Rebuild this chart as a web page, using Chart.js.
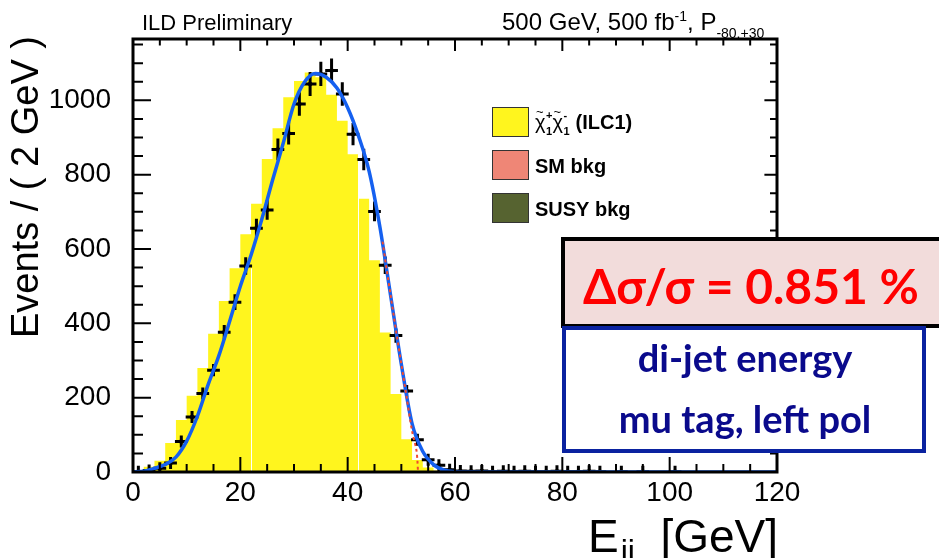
<!DOCTYPE html>
<html>
<head>
<meta charset="utf-8">
<script src="https://cdn.jsdelivr.net/npm/chart.js@4.4.1/dist/chart.umd.min.js"></script>
<style>
  html, body { margin: 0; padding: 0; background: #fff; }
  #wrap { width: 939px; height: 558px; position: relative; }
</style>
</head>
<body>
<div id="wrap"><canvas id="chart"></canvas></div>
<script>
// --------------------
// Data (2 GeV bins, 0-120 GeV)
// --------------------
const binWidth = 2;
const binCenters = [
  1, 3, 5, 7, 9, 11, 13, 15, 17, 19, 21, 23, 25, 27, 29, 31, 33, 35, 37, 39,
  41, 43, 45, 47, 49, 51, 53, 55, 57, 59, 61, 63, 65, 67, 69, 71, 73, 75, 77, 79,
  81, 83, 85, 87, 89, 91, 93, 95, 97, 99, 101, 103, 105, 107, 109, 111, 113, 115, 117, 119
];
// pseudo-data points
const dataCounts = [
  1, 4, 10, 24, 82, 148, 211, 274, 376, 457, 554, 656, 705, 868, 911, 990, 1044, 1071, 1080, 1017,
  909, 841, 701, 556, 367, 218, 87, 33, 18, 6, 3, 2, 3, 1, 2, 1, 2, 1, 1, 2,
  1, 1, 2, 1, 0, 1, 0, 1, 0, 0, 1, 0, 0, 0, 0, 0, 0, 0, 0, 0
];
// signal histogram (yellow)
const signalHist = [
  1, 5, 14, 30, 78, 140, 205, 280, 372, 460, 548, 640, 722, 842, 925, 1008, 1052, 1075, 1062, 1015,
  945, 855, 735, 570, 375, 210, 88, 32, 12, 4, 0, 0, 0, 0, 0, 0, 0, 0, 0, 0,
  0, 0, 0, 0, 0, 0, 0, 0, 0, 0, 0, 0, 0, 0, 0, 0, 0, 0, 0, 0
];
// fit curve (blue)
const fitX = [0, 2, 4, 6, 8, 10, 12, 14, 16, 18, 20, 22, 24, 26, 28, 30, 32, 34, 36, 38,
  40, 42, 44, 46, 48, 50, 52, 54, 56, 58, 60, 62, 80, 100, 120];
const fitY = [0, 2, 10, 20, 40, 83, 150, 235, 313, 405, 500, 584, 680, 785, 885, 990, 1050, 1072, 1062, 1033,
  980, 905, 809, 660, 475, 290, 130, 55, 20, 5, 1, 0, 0, 0, 0];
// signal component of the fit (red dashed)
const sigX = [46.5, 48, 50, 51, 52, 52.8, 53, 53.1];
const sigY = [620, 475, 290, 200, 110, 60, 30, 0];
// bin edges showing a thin white gap
const gapEdges = [22, 42];

const xTicks = [0, 20, 40, 60, 80, 100, 120];
const yTicks = [0, 200, 400, 600, 800, 1000];
const yMax = 1165;

const legendItems = [
  { label: "chi", color: "#fff51e" },
  { label: "SM bkg", color: "#ef8676" },
  { label: "SUSY bkg", color: "#566330" },
];

const FONT = "'Liberation Sans', Arial, sans-serif";

// --------------------
// Helpers
// --------------------
function histPoints(values) {
  const pts = values.map((v, i) => ({ x: binCenters[i] - binWidth / 2, y: v }));
  pts.push({ x: binCenters[binCenters.length - 1] + binWidth / 2, y: values[values.length - 1] });
  return pts;
}

// --------------------
// Plugins
// --------------------
const errorBars = {
  id: "errorBars",
  afterDatasetDraw(chart, args) {
    if (args.index !== 1) return;
    const { ctx, chartArea: a, scales: { x, y } } = chart;
    ctx.save();
    ctx.beginPath();
    ctx.rect(a.left, a.top, a.width, a.height);
    ctx.clip();
    ctx.strokeStyle = "#000";
    ctx.lineWidth = 3;
    ctx.beginPath();
    binCenters.forEach((c, i) => {
      const n = dataCounts[i];
      if (n <= 0) return;
      const err = Math.sqrt(n);
      const px = x.getPixelForValue(c);
      const py = y.getPixelForValue(n);
      ctx.moveTo(x.getPixelForValue(c - binWidth / 2) - 1, py);
      ctx.lineTo(x.getPixelForValue(c + binWidth / 2) + 1, py);
      ctx.moveTo(px, Math.min(y.getPixelForValue(n + err), py - 6));
      ctx.lineTo(px, Math.max(y.getPixelForValue(n - err), py + 6));
    });
    ctx.stroke();
    ctx.restore();
  },
};

const histGaps = {
  id: "histGaps",
  afterDatasetDraw(chart, args) {
    if (args.index !== 0) return;
    const { ctx, scales: { x, y } } = chart;
    ctx.save();
    ctx.strokeStyle = "#fff";
    ctx.lineWidth = 1;
    gapEdges.forEach((e) => {
      const i = binCenters.indexOf(e + binWidth / 2);
      const h = Math.min(signalHist[i], signalHist[i - 1]);
      const px = Math.round(x.getPixelForValue(e)) + 0.5;
      ctx.beginPath();
      ctx.moveTo(px, y.getPixelForValue(0));
      ctx.lineTo(px, y.getPixelForValue(h));
      ctx.stroke();
    });
    ctx.restore();
  },
};

const frame = {
  id: "frame",
  afterDraw(chart) {
    const { ctx, chartArea: a, scales: { x, y } } = chart;
    ctx.save();
    ctx.strokeStyle = "#000";
    ctx.lineWidth = 2;
    ctx.beginPath();
    for (let v = 0; v <= 120; v += 5) {
      const px = x.getPixelForValue(v);
      const len = v % 20 === 0 ? 15 : 8;
      ctx.moveTo(px, a.bottom); ctx.lineTo(px, a.bottom - len);
      ctx.moveTo(px, a.top); ctx.lineTo(px, a.top + len * 0.8);
    }
    for (let v = 0; v <= yMax; v += 50) {
      const py = y.getPixelForValue(v);
      const len = v % 200 === 0 ? 18 : 10;
      ctx.moveTo(a.left, py); ctx.lineTo(a.left + len, py);
      ctx.moveTo(a.right, py); ctx.lineTo(a.right - len * 0.7, py);
    }
    ctx.stroke();
    ctx.lineWidth = 3;
    ctx.strokeRect(a.left, a.top, a.width, a.height);

    // top texts
    ctx.fillStyle = "#000";
    ctx.textBaseline = "alphabetic";
    ctx.textAlign = "left";
    ctx.font = "22px " + FONT;
    ctx.fillText("ILD Preliminary", 142, 30);
    let tx = 502;
    const parts = [
      ["500 GeV, 500 fb", "24px", 30],
      ["-1", "14px", 21],
      [", P", "24px", 30],
      ["-80,+30", "14px", 38],
    ];
    parts.forEach(([t, f, b]) => {
      ctx.font = f + " " + FONT;
      ctx.fillText(t, tx, b);
      tx += ctx.measureText(t).width;
    });

    // y title
    ctx.save();
    ctx.translate(28, 36);
    ctx.rotate(-Math.PI / 2);
    ctx.textAlign = "right";
    ctx.textBaseline = "middle";
    ctx.font = "38px " + FONT;
    ctx.fillText("Events / ( 2 GeV )", 0, 0);
    ctx.restore();

    // x title
    const big = "46px " + FONT;
    ctx.font = big;
    ctx.fillText("E", 588, 552);
    const wE = ctx.measureText("E").width;
    ctx.font = "32px " + FONT;
    ctx.fillText("jj", 588 + wE + 2, 562);
    ctx.font = big;
    ctx.textAlign = "right";
    ctx.fillText("[GeV]", a.right + 1, 552);
    ctx.textAlign = "left";

    // legend
    const ly = [107, 150, 193];
    legendItems.forEach((it, i) => {
      ctx.fillStyle = it.color;
      ctx.fillRect(492, ly[i], 36, 29);
      ctx.strokeStyle = "#333";
      ctx.lineWidth = 1;
      ctx.strokeRect(492.5, ly[i] + 0.5, 36, 29);
      ctx.fillStyle = "#000";
      const base = ly[i] + 23;
      if (it.label === "chi") {
        let cx = 535;
        for (const sign of ["+", "-"]) {
          ctx.font = "20px " + FONT;
          ctx.fillText("\u03c7", cx, base - 1);
          const w = ctx.measureText("\u03c7").width;
          ctx.font = "13px " + FONT;
          ctx.fillText("~", cx + 1, base - 14);
          ctx.font = "bold 11px " + FONT;
          ctx.fillText(sign, cx + w + 0.5, base - 11);
          ctx.fillText("1", cx + w + 0.5, base + 5);
          cx += w + 7;
        }
        ctx.font = "bold 20px " + FONT;
        ctx.fillText(" (ILC1)", cx, base - 1);
      } else {
        ctx.font = "bold 20px " + FONT;
        ctx.fillText(it.label, 535, base);
      }
    });

    // result boxes
    ctx.fillStyle = "#f2dcdb";
    ctx.fillRect(563, 239, 390, 87);
    ctx.strokeStyle = "#000";
    ctx.lineWidth = 4;
    ctx.strokeRect(563, 239, 390, 87);
    ctx.fillStyle = "#fff";
    ctx.fillRect(564, 328, 360, 123);
    ctx.strokeStyle = "#0a22a0";
    ctx.strokeRect(564, 328, 360, 123);
    ctx.textAlign = "center";
    ctx.fillStyle = "#ff0000";
    ctx.font = "bold 48px Lato, 'Open Sans', sans-serif";
    ctx.fillText("\u0394\u03c3/\u03c3 = 0.851 %", 751, 304);
    ctx.fillStyle = "#0a0a8c";
    ctx.font = "bold 38px Lato, 'Open Sans', sans-serif";
    ctx.fillText("di-jet energy", 745, 372);
    ctx.fillText("mu tag, left pol", 745, 433);
    ctx.restore();
  },
};

// --------------------
// Chart
// --------------------
const ctx = document.getElementById("chart").getContext("2d");

new Chart(ctx, {
  type: "line",
  data: {
    datasets: [
      {
        label: "signal",
        data: histPoints(signalHist),
        stepped: "after",
        fill: "origin",
        backgroundColor: "#fff51e",
        borderWidth: 0,
        pointRadius: 0,
        order: 5,
      },
      {
        type: "scatter",
        label: "data",
        data: binCenters.map((c, i) => ({ x: c, y: dataCounts[i] })).filter((p) => p.y > 0),
        pointStyle: "rect",
        pointRadius: 2.5,
        backgroundColor: "#000",
        borderColor: "#000",
        borderWidth: 0,
        order: 4,
      },
      {
        label: "fit",
        data: fitX.map((v, i) => ({ x: v, y: fitY[i] })),
        borderColor: "#1560f0",
        borderWidth: 3.5,
        pointRadius: 0,
        cubicInterpolationMode: "monotone",
        fill: false,
        order: 2,
      },
      {
        label: "sig",
        data: sigX.map((v, i) => ({ x: v, y: sigY[i] })),
        borderColor: "#f04a30",
        borderWidth: 2,
        borderDash: [3, 3],
        pointRadius: 0,
        tension: 0.3,
        fill: false,
        order: 1,
      },
    ],
  },
  options: {
    responsive: true,
    maintainAspectRatio: false,
    animation: false,
    devicePixelRatio: 1,
    layout: { padding: { left: 0, right: 162, top: 39, bottom: 0 } },
    plugins: { legend: { display: false }, tooltip: { enabled: false } },
    scales: {
      x: {
        type: "linear",
        min: 0,
        max: 120,
        afterBuildTicks: (s) => { s.ticks = xTicks.map((v) => ({ value: v })); },
        ticks: { color: "#000", font: { family: FONT, size: 28 }, padding: 4, maxRotation: 0, autoSkip: false,
          callback: (v) => String(v) },
        grid: { display: false, drawTicks: false },
        border: { display: false },
        afterFit: (s) => { s.height = 86; },
      },
      y: {
        type: "linear",
        min: 0,
        max: yMax,
        afterBuildTicks: (s) => { s.ticks = yTicks.map((v) => ({ value: v })); },
        ticks: { color: "#000", font: { family: FONT, size: 28 }, padding: 22, autoSkip: false,
          callback: (v) => String(v) },
        grid: { display: false, drawTicks: false },
        border: { display: false },
        afterFit: (s) => { s.width = 133; },
      },
    },
  },
  plugins: [histGaps, errorBars, frame],
});
</script>
</body>
</html>
